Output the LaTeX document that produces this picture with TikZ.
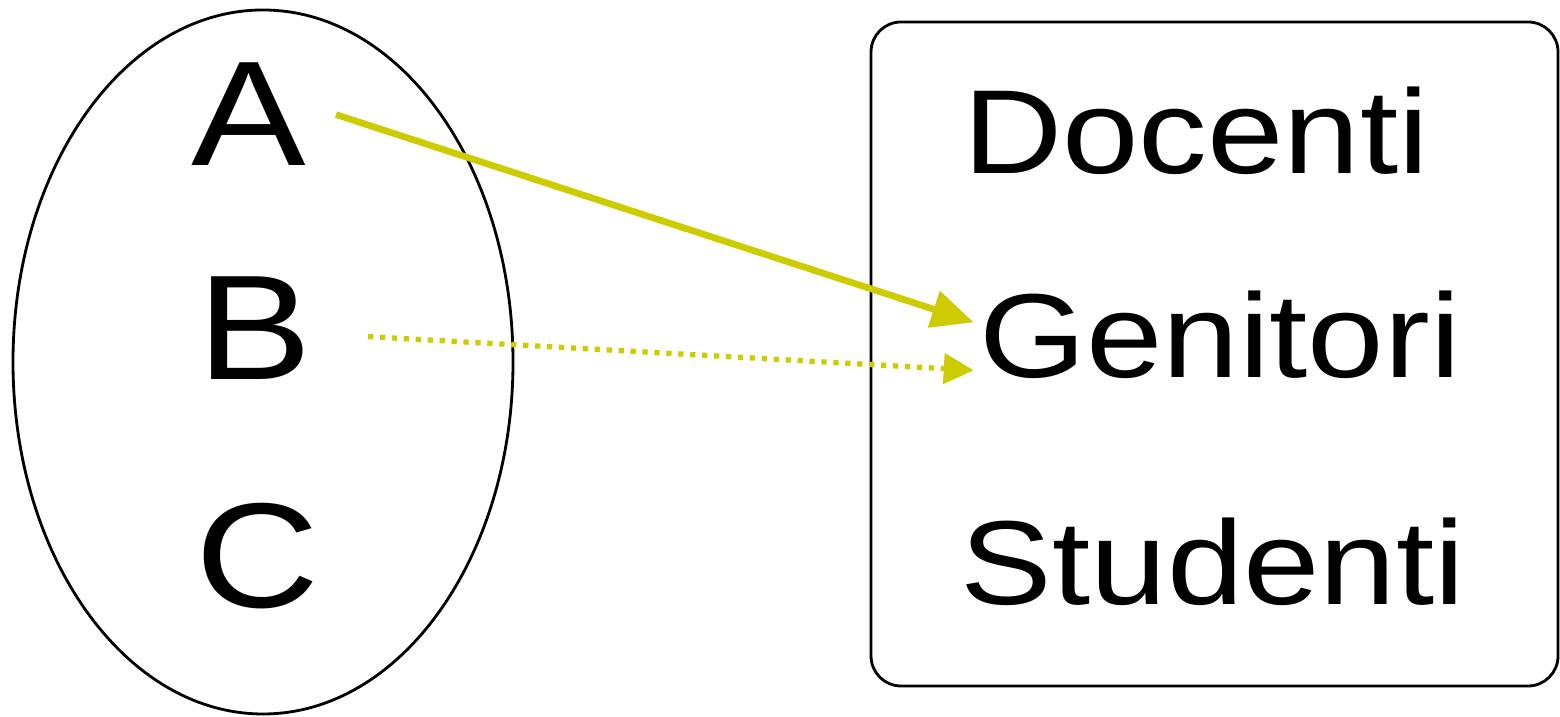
\documentclass[tikz,border=0pt]{standalone}
\usepackage{fontspec}
\usetikzlibrary{arrows.meta}
\newfontfamily\labelfont[FakeStretch=1.15]{Liberation Sans}
\definecolor{linkyellow}{RGB}{204,204,0}
\tikzset{
    letter/.style={font=\labelfont\fontsize{42.5}{50}\selectfont, inner sep=0pt, anchor=base},
    role/.style={font=\labelfont\fontsize{34}{40}\selectfont, inner sep=0pt, anchor=base},
    link/.style={linkyellow, line width=1.9pt, -{Triangle[length=0.42cm, width=0.37cm]}},
    maybelink/.style={linkyellow, line width=1.5pt, dash pattern=on 1.5pt off 1.9pt,
        -{Triangle[length=0.3cm, width=0.3cm]}}
}
\begin{document}
\begin{tikzpicture}
        \useasboundingbox (0, 0) rectangle (15.6, 7.17);

        % domain
        \draw[line width=0.8pt] (2.63, 3.55) ellipse (2.5 and 3.52);
        \node[letter] (A) at (2.49, 5.51) {A};
        \node[letter] (B) at (2.55, 3.37) {B};
        \node[letter] (C) at (2.58, 1.09) {C};

        % codomain
        \draw[line width=0.8pt, rounded corners=0.3cm] (8.71, 0.31) rectangle (15.58, 6.95);
        \node[role] (Docenti) at (11.96, 5.43) {Docenti};
        \node[role] (Genitori) at (12.20, 3.39) {Genitori};
        \node[role] (Studenti) at (12.13, 1.12) {Studenti};

        \draw[link] ([xshift=0.29cm]A.east) -- ([xshift=-0.05cm, yshift=0.13cm]Genitori.west);
        \draw[maybelink] ([xshift=0.55cm, yshift=-0.08cm]B.east) -- ([xshift=-0.05cm, yshift=-0.35cm]Genitori.west);
    \end{tikzpicture}
\end{document}
